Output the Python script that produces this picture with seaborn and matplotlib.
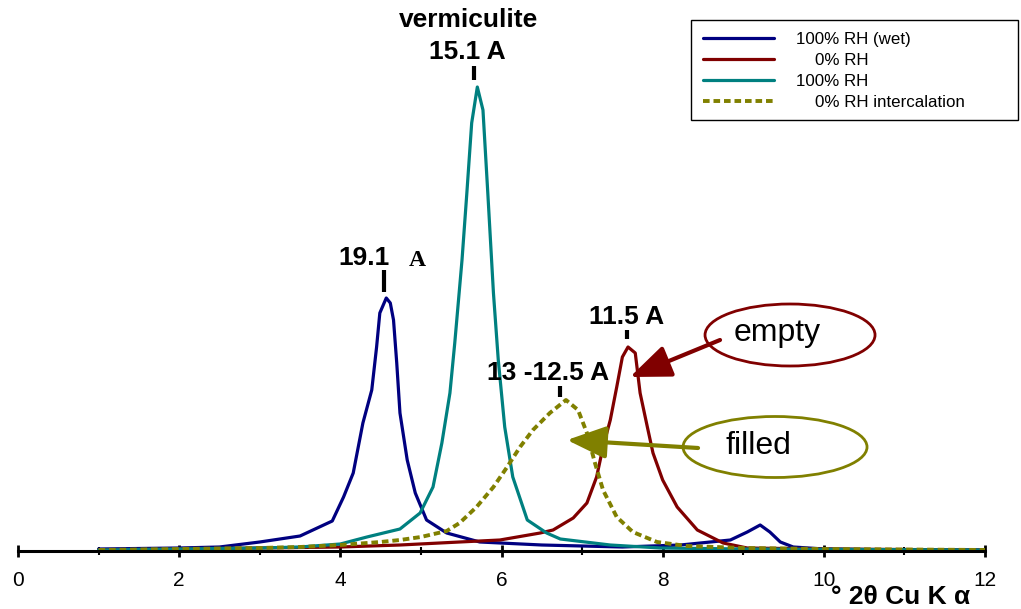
import numpy as np
import pandas as pd
import matplotlib
matplotlib.use("Agg")
import matplotlib.pyplot as plt
import seaborn as sns
from matplotlib.patches import Ellipse, Rectangle

# ---- data (2-theta, intensity in arbitrary units) ----
blue_x = [1.0, 2.0, 2.5, 3.0, 3.5, 3.9, 4.04, 4.16, 4.28, 4.39, 4.45, 4.49, 4.57, 4.62, 4.66, 4.70,
          4.74, 4.83, 4.93, 5.07, 5.32, 5.73, 6.5, 7.5, 8.22, 8.84, 9.05, 9.21, 9.33, 9.46, 9.62,
          10.0, 11.0, 12.0]
blue_y = [2, 3, 4, 9, 15, 30, 54, 78, 128, 161, 204, 238, 253, 248, 231, 188,
          138, 91, 58, 31, 18, 9, 6, 4, 6, 11, 19, 26, 19, 9, 4,
          2, 1, 1]

red_x = [1.0, 2.0, 3.0, 4.0, 4.74, 5.48, 5.98, 6.48, 6.64, 6.89, 7.06, 7.18, 7.26, 7.35, 7.43,
         7.50, 7.57, 7.66, 7.72, 7.81, 7.88, 8.0, 8.18, 8.43, 8.75, 9.05, 10.0, 12.0]
red_y = [1, 2, 3, 4, 6, 9, 11, 18, 21, 33, 48, 74, 104, 131, 164,
         194, 204, 198, 158, 124, 98, 71, 44, 21, 8, 3, 2, 1]

cyan_x = [1.0, 2.0, 3.0, 3.5, 4.0, 4.33, 4.74, 4.99, 5.15, 5.26, 5.36, 5.42, 5.51, 5.57, 5.63,
          5.70, 5.77, 5.83, 5.90, 5.96, 6.04, 6.14, 6.32, 6.56, 6.73, 7.35, 7.97, 9.0, 12.0]
cyan_y = [1, 2, 3, 4, 7, 14, 22, 38, 64, 108, 158, 208, 291, 358, 428,
          464, 441, 358, 258, 191, 124, 74, 31, 18, 12, 6, 3, 2, 1]

olive_x = [1.0, 2.0, 3.0, 3.5, 4.0, 4.5, 4.74, 5.0, 5.32, 5.48, 5.69, 5.90, 6.07, 6.23, 6.39,
           6.60, 6.80, 6.95, 7.06, 7.16, 7.26, 7.43, 7.63, 7.93, 8.3, 9.0, 10.0, 12.0]
olive_y = [1, 2, 3, 4, 6, 9, 11, 14, 20, 28, 44, 64, 84, 104, 121,
           138, 151, 141, 118, 88, 61, 34, 19, 9, 5, 3, 2, 1]

series_labels = ["100% RH (wet)", "    0% RH", "100% RH", "    0% RH intercalation"]
xtick_vals = [0, 2, 4, 6, 8, 10, 12]

sns.set_style("white")
plt.rcParams['font.family'] = ['Liberation Sans', 'DejaVu Sans']
plt.rcParams['text.color'] = 'black'
plt.rcParams['xtick.color'] = 'black'
plt.rcParams['xtick.labelcolor'] = 'black'

fig = plt.figure(figsize=(10.21, 6.09), dpi=100)
ax = fig.add_axes([18 / 1021, 58 / 609, (985 - 18) / 1021, 551 / 609])

lw = 2.3
sns.lineplot(x=blue_x, y=blue_y, ax=ax, color="#000080", lw=lw, label=series_labels[0], sort=False)
sns.lineplot(x=red_x, y=red_y, ax=ax, color="#800000", lw=lw, label=series_labels[1], sort=False)
sns.lineplot(x=cyan_x, y=cyan_y, ax=ax, color="#008080", lw=lw, label=series_labels[2], sort=False)
sns.lineplot(x=olive_x, y=olive_y, ax=ax, color="#808000", lw=2.8, label=series_labels[3],
             sort=False, linestyle=(0, (1.7, 1.0)))
handles, labels = ax.get_legend_handles_labels()
ax.get_legend().remove()

ax.set_xlim(0, 12)
ax.set_ylim(0, 551)
for s in ["top", "right", "left"]:
    ax.spines[s].set_visible(False)
ax.spines["bottom"].set_color("black")
ax.spines["bottom"].set_linewidth(2.2)
ax.set_yticks([])
ax.set_xticks(xtick_vals)
ax.set_xticklabels([str(v) for v in xtick_vals])
ax.set_xticks(range(0, 13), minor=True)
ax.tick_params(axis="x", which="both", bottom=True)
ax.tick_params(axis="x", which="major", direction="inout", length=9, width=2,
               color="black", labelcolor="black", labelsize=15, pad=10)
ax.tick_params(axis="x", which="minor", direction="inout", length=6, width=1.5, color="black")
ax.set_xlabel("")
ax.set_ylabel("")

fig.text(970 / 1021, 1 - 597 / 609, "° 2θ Cu K α", ha="right", va="center",
         fontsize=19, fontweight="bold", color="black")

# peak labels
bold = dict(fontsize=19, fontweight="bold", ha="center", va="center", color="black")
ax.text((468 - 18) / 80.58, 551 - 20, "vermiculite", **bold)
ax.text((467 - 18) / 80.58, 551 - 52, "15.1 A", **bold)
ax.text((364 - 18) / 80.58, 551 - 258, "19.1", **bold)
ax.text((417 - 18) / 80.58, 551 - 261, "A", fontsize=17, fontweight="bold", ha="center",
        va="center", color="black", family=["Liberation Serif", "DejaVu Serif"])
ax.text((627 - 18) / 80.58, 551 - 317, "11.5 A", **bold)
ax.text((548 - 18) / 80.58, 551 - 373, "13 -12.5 A", **bold)

# peak marker ticks
for px, y0, y1 in [(474, 66, 80), (384, 270, 292), (627, 330, 339), (560, 386, 397)]:
    xx = (px - 18) / 80.58
    ax.plot([xx, xx], [551 - y1, 551 - y0], color="black", lw=3, solid_capstyle="butt")

# ellipses
ax.add_patch(Ellipse(((790 - 18) / 80.58, 551 - 335), 170 / 80.58, 62,
                     fill=False, edgecolor="#800000", lw=2))
ax.text((777 - 18) / 80.58, 551 - 333, "empty", fontsize=23, ha="center", va="center",
        color="black")
ax.add_patch(Ellipse(((775 - 18) / 80.58, 551 - 447), 184 / 80.58, 61,
                     fill=False, edgecolor="#808000", lw=2))
ax.text((758 - 18) / 80.58, 551 - 446, "filled", fontsize=23, ha="center", va="center",
        color="black")

# arrows
ax.annotate("", xy=((630 - 18) / 80.58, 551 - 377), xytext=((720 - 18) / 80.58, 551 - 340),
            arrowprops=dict(arrowstyle="-|>,head_length=1.25,head_width=0.5", mutation_scale=20,
                            color="#800000", lw=3, shrinkA=0, shrinkB=0))
ax.annotate("", xy=((567 - 18) / 80.58, 551 - 440), xytext=((698 - 18) / 80.58, 551 - 448),
            arrowprops=dict(arrowstyle="-|>,head_length=1.2,head_width=0.5", mutation_scale=20,
                            color="#808000", lw=3, shrinkA=0, shrinkB=0))

# legend with a manual frame
fig.patches.append(Rectangle((691 / 1021, 1 - 120 / 609), (1018 - 691) / 1021, 100 / 609,
                             transform=fig.transFigure, fill=True, facecolor="white",
                             edgecolor="black", lw=1.0, zorder=4))
leg = fig.legend(handles, labels, loc="upper left", bbox_to_anchor=(703 / 1021, 1 - 32 / 609),
                 bbox_transform=fig.transFigure, fontsize=12.2, frameon=False,
                 handlelength=4.2, handletextpad=1.3,
                 labelspacing=0.36, borderpad=0, borderaxespad=0)
leg.set_zorder(6)
for t in leg.get_texts():
    t.set_color("black")

fig.savefig("out.png", dpi=100)
